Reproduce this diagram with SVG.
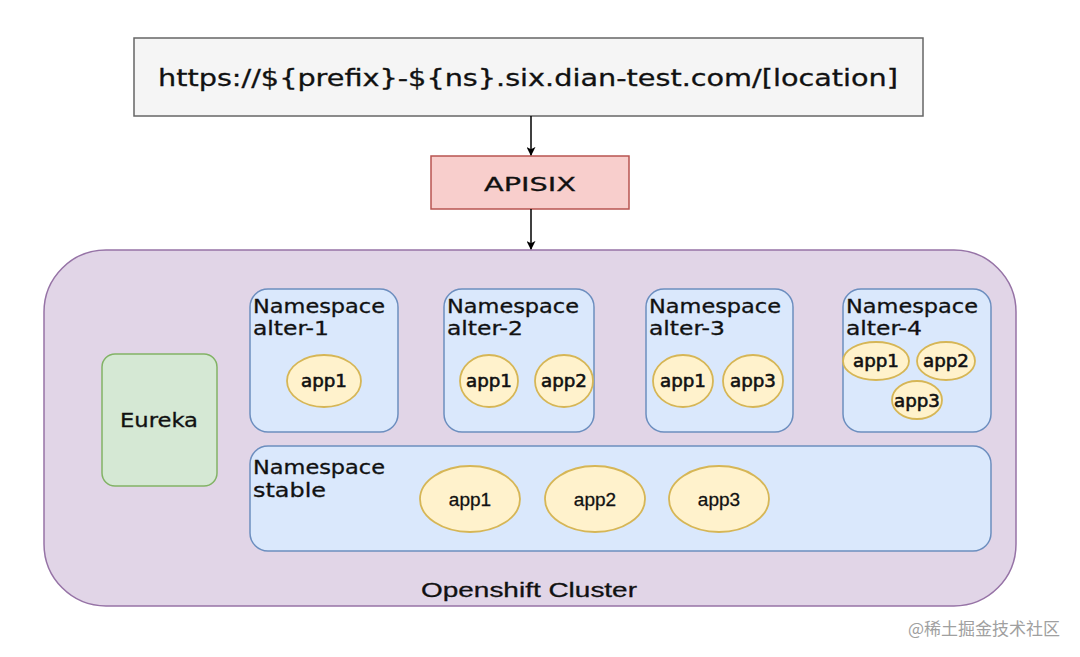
<svg xmlns="http://www.w3.org/2000/svg" width="1080" height="657" viewBox="0 0 1080 657">
<style>
  .ns { fill:#dae8fc; stroke:#6c8ebf; stroke-width:1.5; }
  .app { fill:#fff2cc; stroke:#d6b656; stroke-width:1.8; }
  .dv { font-family:"DejaVu Sans","Verdana",sans-serif; fill:#111; stroke:#111; stroke-width:0.3; }
  .ar { font-family:"Liberation Sans",Arial,sans-serif; fill:#111; stroke:#111; stroke-width:0.3; }
  .lbl { font-size:19px; }
  .applbl { font-size:18px; text-anchor:middle; stroke-width:0.6; }
  .conn { stroke:#000; stroke-width:1.5; fill:none; }
</style>
<defs>
  <marker id="arr" viewBox="0 0 10 10" refX="9" refY="5" markerWidth="9" markerHeight="9" orient="auto" markerUnits="userSpaceOnUse">
    <path d="M0,0 L10,5 L0,10 L2.5,5 Z" fill="#000"/>
  </marker>
</defs>
<rect width="1080" height="657" fill="#fff"/>

<g id="cluster">
  <rect x="44" y="250" width="972" height="356" rx="62" ry="62" fill="#e1d5e7" stroke="#9673a6" stroke-width="1.5"/>
  <text class="ar" x="421" y="597" font-size="21" textLength="216" lengthAdjust="spacingAndGlyphs">Openshift Cluster</text>
</g>

<g id="url">
  <rect x="134" y="38" width="789" height="78" fill="#f5f5f5" stroke="#666" stroke-width="1.5"/>
  <text class="dv" x="158" y="86" font-size="23" textLength="740" lengthAdjust="spacingAndGlyphs" fill="#222" stroke-width="0.15">https://${prefix}-${ns}.six.dian-test.com/[location]</text>
</g>

<g id="apisix">
  <rect x="431" y="156" width="198" height="53" fill="#f8cecc" stroke="#b85450" stroke-width="1.5"/>
  <text class="dv" x="484" y="191" font-size="20" textLength="92" lengthAdjust="spacingAndGlyphs">APISIX</text>
</g>

<g id="connectors">
  <line class="conn" x1="531" y1="116" x2="531" y2="155" marker-end="url(#arr)"/>
  <line class="conn" x1="531" y1="209" x2="531" y2="249" marker-end="url(#arr)"/>
</g>

<g id="eureka">
  <rect x="102" y="354" width="115" height="132" rx="13" fill="#d5e8d4" stroke="#82b366" stroke-width="1.5"/>
  <text class="dv" x="120" y="427" font-size="19" textLength="78" lengthAdjust="spacingAndGlyphs">Eureka</text>
</g>

<g id="ns-alter-1">
  <rect class="ns" x="250" y="289" width="148" height="143" rx="18"/>
  <text class="dv lbl" x="253" y="313" textLength="132" lengthAdjust="spacingAndGlyphs">Namespace</text>
  <text class="dv lbl" x="253" y="335" textLength="76" lengthAdjust="spacingAndGlyphs">alter-1</text>
  <ellipse class="app" cx="324" cy="381" rx="37" ry="26"/>
  <text class="dv applbl" x="324" y="387" textLength="46" lengthAdjust="spacingAndGlyphs">app1</text>
</g>

<g id="ns-alter-2">
  <rect class="ns" x="444" y="289" width="150" height="143" rx="18"/>
  <text class="dv lbl" x="447" y="313" textLength="132" lengthAdjust="spacingAndGlyphs">Namespace</text>
  <text class="dv lbl" x="447" y="335" textLength="76" lengthAdjust="spacingAndGlyphs">alter-2</text>
  <ellipse class="app" cx="489" cy="381" rx="29" ry="26"/>
  <text class="dv applbl" x="489" y="387" textLength="46" lengthAdjust="spacingAndGlyphs">app1</text>
  <ellipse class="app" cx="564" cy="381" rx="29" ry="26"/>
  <text class="dv applbl" x="564" y="387" textLength="46" lengthAdjust="spacingAndGlyphs">app2</text>
</g>

<g id="ns-alter-3">
  <rect class="ns" x="646" y="289" width="147" height="143" rx="18"/>
  <text class="dv lbl" x="649" y="313" textLength="132" lengthAdjust="spacingAndGlyphs">Namespace</text>
  <text class="dv lbl" x="649" y="335" textLength="76" lengthAdjust="spacingAndGlyphs">alter-3</text>
  <ellipse class="app" cx="683" cy="381" rx="30" ry="26"/>
  <text class="dv applbl" x="683" y="387" textLength="46" lengthAdjust="spacingAndGlyphs">app1</text>
  <ellipse class="app" cx="753" cy="381" rx="30" ry="26"/>
  <text class="dv applbl" x="753" y="387" textLength="46" lengthAdjust="spacingAndGlyphs">app3</text>
</g>

<g id="ns-alter-4">
  <rect class="ns" x="843" y="289" width="148" height="143" rx="18"/>
  <text class="dv lbl" x="846" y="313" textLength="132" lengthAdjust="spacingAndGlyphs">Namespace</text>
  <text class="dv lbl" x="846" y="335" textLength="76" lengthAdjust="spacingAndGlyphs">alter-4</text>
  <ellipse class="app" cx="876" cy="361" rx="33" ry="19"/>
  <text class="dv applbl" x="876" y="367" textLength="46" lengthAdjust="spacingAndGlyphs">app1</text>
  <ellipse class="app" cx="946" cy="361" rx="29" ry="19"/>
  <text class="dv applbl" x="946" y="367" textLength="46" lengthAdjust="spacingAndGlyphs">app2</text>
  <ellipse class="app" cx="917" cy="400" rx="25" ry="19"/>
  <text class="dv applbl" x="917" y="407" textLength="46" lengthAdjust="spacingAndGlyphs">app3</text>
</g>

<g id="ns-stable">
  <rect class="ns" x="250" y="446" width="741" height="105" rx="18"/>
  <text class="dv lbl" x="253" y="474" textLength="132" lengthAdjust="spacingAndGlyphs">Namespace</text>
  <text class="dv lbl" x="253" y="497" textLength="73" lengthAdjust="spacingAndGlyphs">stable</text>
  <ellipse class="app" cx="470" cy="499" rx="50" ry="33"/>
  <text class="ar" x="470" y="506" font-size="19" text-anchor="middle">app1</text>
  <ellipse class="app" cx="595" cy="499" rx="50" ry="33"/>
  <text class="ar" x="595" y="506" font-size="19" text-anchor="middle">app2</text>
  <ellipse class="app" cx="719" cy="499" rx="50" ry="33"/>
  <text class="ar" x="719" y="506" font-size="19" text-anchor="middle">app3</text>
</g>

<text x="1060" y="635" font-family="'Noto Sans CJK SC',sans-serif" font-size="17" fill="#a0a0a0" text-anchor="end">@稀土掘金技术社区</text>
</svg>
